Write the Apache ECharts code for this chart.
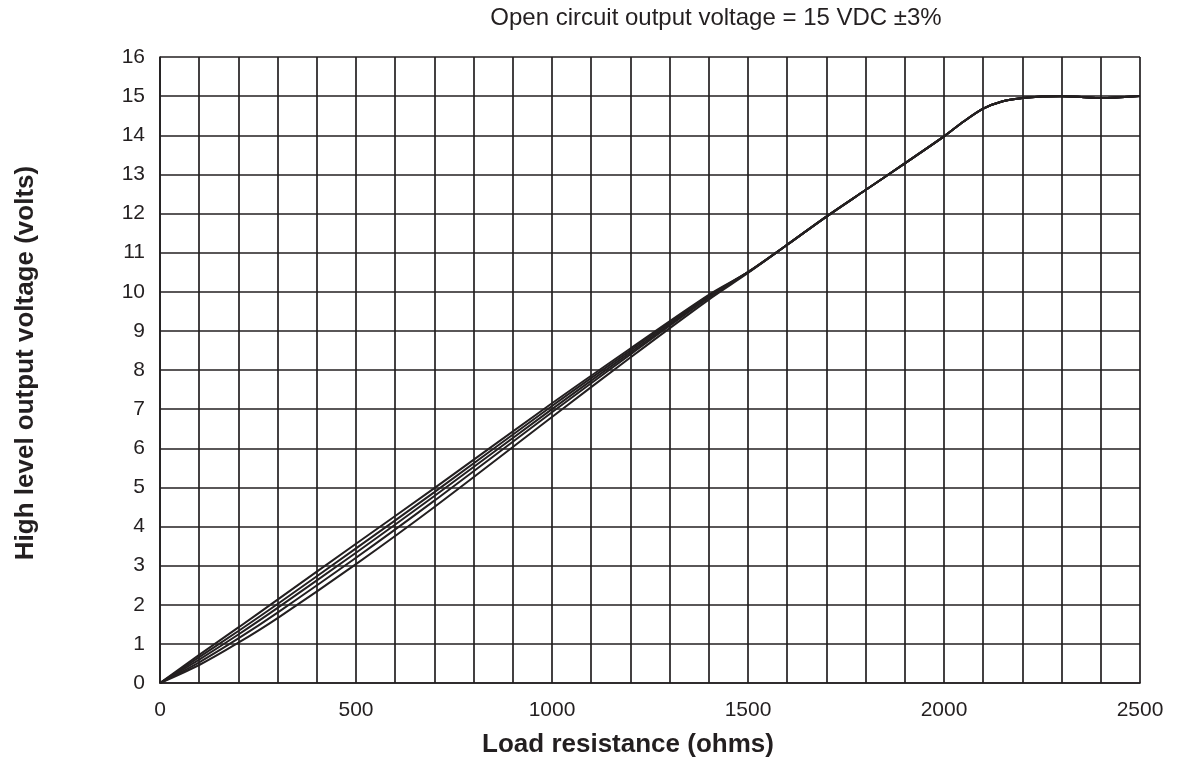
<!DOCTYPE html>
<html>
<head>
<meta charset="utf-8">
<script src="https://cdn.jsdelivr.net/npm/echarts@6/dist/echarts.min.js"></script>
<style>
  html, body { margin: 0; padding: 0; background: #fff; }
  #chart { width: 1177px; height: 763px; }
</style>
</head>
<body>
<div id="chart"></div>
<script>
// Load resistance sample points (ohms) for the linear, spread region
const loadOhms = [0, 100, 200, 300, 500, 700, 1000, 1200, 1400, 1500];
// Output voltage for each unit in the spread region (volts)
const unitA = [0, 0.72, 1.42, 2.13, 3.56, 4.98, 7.15, 8.55, 9.92, 10.5];
const unitB = [0, 0.66, 1.33, 2.02, 3.44, 4.88, 7.08, 8.50, 9.90, 10.5];
const unitC = [0, 0.60, 1.24, 1.92, 3.33, 4.78, 7.00, 8.45, 9.87, 10.5];
const unitD = [0, 0.53, 1.14, 1.80, 3.20, 4.66, 6.92, 8.40, 9.85, 10.5];
const unitE = [0, 0.46, 1.03, 1.66, 3.04, 4.50, 6.80, 8.32, 9.80, 10.48];
// Shared curve once all units converge, up to the open-circuit limit
const tailOhms = [1600, 1700, 1800, 1900, 2000, 2050, 2100, 2150, 2200, 2250, 2300, 2350, 2400, 2450, 2500];
const tailVolts = [11.2, 11.92, 12.6, 13.28, 13.97, 14.35, 14.68, 14.87, 14.95, 14.99, 15.0, 14.98, 14.95, 14.97, 15.0];

const xTickLabels = ['0', '500', '1000', '1500', '2000', '2500'];
const yTickLabels = ['0','1','2','3','4','5','6','7','8','9','10','11','12','13','14','15','16'];

const titleText = 'Open circuit output voltage = 15 VDC \u00b13%';
const xName = 'Load resistance (ohms)';
const yName = 'High level output voltage (volts)';

const ink = '#231f20';
const font = '"Liberation Sans", Arial, Helvetica, sans-serif';

function buildSeries(vals) {
  const pts = loadOhms.map((x, i) => [x, vals[i]]);
  tailOhms.forEach((x, i) => pts.push([x, tailVolts[i]]));
  return {
    type: 'line',
    data: pts,
    smooth: 0.3,
    showSymbol: false,
    lineStyle: { color: ink, width: 2 },
    z: 5
  };
}

const chart = echarts.init(document.getElementById('chart'), null, { renderer: 'canvas' });
chart.setOption({
  animation: false,
  backgroundColor: '#ffffff',
  title: {
    text: titleText,
    left: 711,
    top: 1,
    textAlign: 'center',
    textStyle: { fontFamily: font, fontSize: 24, fontWeight: 'normal', color: ink }
  },
  grid: { left: 160, right: 37, top: 57, bottom: 78, containLabel: false },
  xAxis: {
    type: 'value',
    min: 0,
    max: 2500,
    interval: 100,
    name: xName,
    nameLocation: 'middle',
    nameGap: 49,
    nameTextStyle: {
      fontFamily: font, fontSize: 26, fontWeight: 'bold', color: ink,
      padding: [0, 44, 0, 0]
    },
    axisLine: { show: true, lineStyle: { color: ink, width: 1.7 } },
    axisTick: { show: false },
    axisLabel: {
      margin: 17,
      fontFamily: font, fontSize: 21, color: ink,
      formatter: v => (xTickLabels.includes(String(v)) ? String(v) : '')
    },
    splitLine: { show: true, lineStyle: { color: ink, width: 1.7 } }
  },
  yAxis: {
    type: 'value',
    min: 0,
    max: 16,
    interval: 1,
    name: yName,
    nameLocation: 'middle',
    nameGap: 121,
    nameRotate: 90,
    nameTextStyle: {
      fontFamily: font, fontSize: 26, fontWeight: 'bold', color: ink,
      padding: [0, 0, 0, 14]
    },
    axisLine: { show: true, lineStyle: { color: ink, width: 1.7 } },
    axisTick: { show: false },
    axisLabel: {
      margin: 15,
      fontFamily: font, fontSize: 21, color: ink,
      formatter: v => yTickLabels[Math.round(v)] || ''
    },
    splitLine: { show: true, lineStyle: { color: ink, width: 1.7 } }
  },
  series: [unitA, unitB, unitC, unitD, unitE].map(buildSeries)
});
</script>
</body>
</html>
